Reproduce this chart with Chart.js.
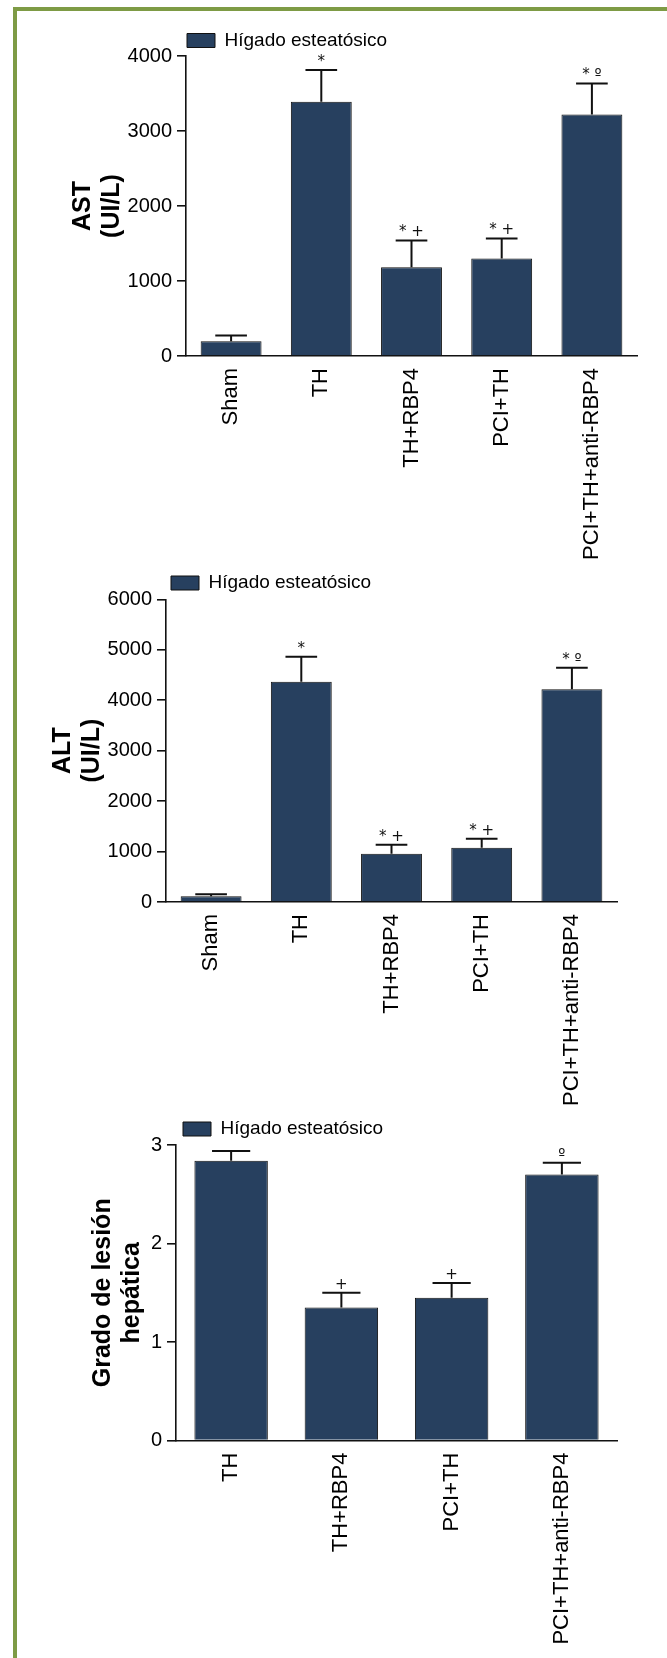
<!DOCTYPE html>
<html>
<head>
<meta charset="utf-8">
<script src="https://cdn.jsdelivr.net/npm/chart.js@4"></script>
<style>
  html, body { margin: 0; padding: 0; background: #fff; }
  body { width: 667px; height: 1658px; position: relative; overflow: hidden; }
  #frame { position: absolute; left: 13px; top: 7px; width: 700px; height: 1700px;
           border-left: 4.5px solid #7e9b45; border-top: 4.5px solid #7e9b45; box-sizing: border-box; }
  canvas { position: absolute; left: 0; }
</style>
</head>
<body>
<div id="frame"></div>
<canvas id="c1" width="667" height="580" style="top:0px"></canvas>
<canvas id="c2" width="667" height="560" style="top:560px"></canvas>
<canvas id="c3" width="667" height="558" style="top:1100px"></canvas>
<script>
// ---------- data ----------
const groups5 = ['Sham', 'TH', 'TH+RBP4', 'PCI+TH', 'PCI+TH+anti-RBP4'];
const groups4 = ['TH', 'TH+RBP4', 'PCI+TH', 'PCI+TH+anti-RBP4'];
const seriesName = 'Hígado esteatósico';

const astMean = [196, 3390, 1185, 1301, 3220];
const astSem  = [76, 423, 356, 267, 415];
const astMarks = ['', '*', '* +', '* +', '* º'];
const astTicks = [0, 1000, 2000, 3000, 4000];

const altMean = [112, 4367, 958, 1077, 4216];
const altSem  = [40, 495, 178, 178, 428];
const altMarks = ['', '*', '* +', '* +', '* º'];
const altTicks = [0, 1000, 2000, 3000, 4000, 5000, 6000];

const gradeMean = [2.84, 1.35, 1.45, 2.70];
const gradeSem  = [0.10, 0.15, 0.15, 0.12];
const gradeMarks = ['', '+', '+', 'º'];
const gradeTicks = [0, 1, 2, 3];

// ---------- styling ----------
const FONT = '"Liberation Sans", Arial, Helvetica, sans-serif';
const MARKFONT = '"DejaVu Sans", "Liberation Sans", sans-serif';
const BAR = '#27405f';
const INK = '#111111';
const TITLE_SIZE = 25;
const TITLE_LH = 1.15;

const errBars = {
  id: 'errBars',
  afterDatasetsDraw(chart, args, opts) {
    const ctx = chart.ctx;
    const meta = chart.getDatasetMeta(0);
    const ys = chart.scales.y;
    const data = chart.data.datasets[0].data;
    ctx.save();
    meta.data.forEach((bar, i) => {
      const base = ys.getPixelForValue(data[i]);
      const top = ys.getPixelForValue(data[i] + opts.sem[i]);
      const half = bar.width * 0.26;
      ctx.strokeStyle = INK;
      ctx.lineWidth = 2;
      ctx.beginPath();
      ctx.moveTo(bar.x, base);
      ctx.lineTo(bar.x, top);
      ctx.moveTo(bar.x - half, top);
      ctx.lineTo(bar.x + half, top);
      ctx.stroke();
      if (opts.marks[i]) {
        ctx.fillStyle = INK;
        ctx.font = '15px ' + MARKFONT;
        ctx.textAlign = 'center';
        ctx.textBaseline = 'alphabetic';
        ctx.fillText(opts.marks[i], bar.x, top - 4);
      }
    });
    ctx.restore();
  }
};

const legendPlace = {
  id: 'legendPlace',
  afterLayout(chart, args, opts) {
    const lg = chart.legend;
    if (!lg || !opts.pos) return;
    const w = lg.width, h = lg.height;
    lg.left = opts.pos.x; lg.top = opts.pos.y;
    lg.right = lg.left + w; lg.bottom = lg.top + h;
  }
};

function makeChart(id, cfg) {
  const canvas = document.getElementById(id);
  const H = canvas.height;
  return new Chart(canvas, {
    type: 'bar',
    data: {
      labels: cfg.labels,
      datasets: [{
        label: seriesName,
        data: cfg.values,
        backgroundColor: BAR,
        borderColor: INK,
        borderWidth: 1,
        barPercentage: cfg.barPct,
        categoryPercentage: 1
      }]
    },
    plugins: [errBars, legendPlace],
    options: {
      responsive: false,
      animation: false,
      devicePixelRatio: 1,
      layout: { padding: { left: 0, top: cfg.top, right: cfg.right, bottom: 0 } },
      plugins: {
        legend: {
          position: 'chartArea',
          align: 'start',
          labels: {
            boxWidth: 28, boxHeight: 14, padding: 10, color: '#000',
            font: { family: FONT, size: 19 }
          }
        },
        tooltip: { enabled: false },
        legendPlace: { pos: cfg.legendPos },
        errBars: { sem: cfg.sem, marks: cfg.marks }
      },
      scales: {
        x: {
          grid: { display: false, drawTicks: false },
          border: { display: true, color: INK, width: 1.6 },
          ticks: {
            color: '#000', padding: 12, minRotation: 90, maxRotation: 90,
            font: { family: FONT, size: 22 }
          },
          afterFit: s => { s.height = H - cfg.bottom; }
        },
        y: {
          min: cfg.ticks[0],
          max: cfg.ticks[cfg.ticks.length - 1],
          afterBuildTicks: s => { s.ticks = cfg.ticks.map(v => ({ value: v })); },
          grid: { display: true, drawOnChartArea: false, drawTicks: true, tickLength: 9, color: INK, lineWidth: 1.6 },
          border: { display: true, color: INK, width: 1.6 },
          ticks: {
            color: '#000', padding: 5,
            font: { family: FONT, size: 20 },
            callback: v => String(v)
          },
          title: {
            display: true,
            text: cfg.title,
            color: '#000',
            font: { family: FONT, size: TITLE_SIZE, weight: 'bold', lineHeight: TITLE_LH },
            padding: { top: cfg.titleX - TITLE_SIZE * TITLE_LH / 2, bottom: 0 }
          },
          afterFit: s => { s.width = cfg.left; }
        }
      }
    }
  });
}

makeChart('c1', {
  labels: groups5, values: astMean, sem: astSem, marks: astMarks, ticks: astTicks,
  title: ['AST', '(UI/L)'], titleX: 83,
  top: 56, bottom: 356, left: 186, right: 30, barPct: 0.675,
  legendPos: { x: 177, y: 21 }
});

makeChart('c2', {
  labels: groups5, values: altMean, sem: altSem, marks: altMarks, ticks: altTicks,
  title: ['ALT', '(UI/L)'], titleX: 63,
  top: 39.3, bottom: 342, left: 166, right: 50, barPct: 0.675,
  legendPos: { x: 161, y: 3.5 }
});

makeChart('c3', {
  labels: groups4, values: gradeMean, sem: gradeSem, marks: gradeMarks, ticks: gradeTicks,
  title: ['Grado de lesión', 'hepática'], titleX: 103,
  top: 45, bottom: 340.6, left: 176, right: 50, barPct: 0.666,
  legendPos: { x: 173, y: 9.5 }
});
</script>
</body>
</html>
